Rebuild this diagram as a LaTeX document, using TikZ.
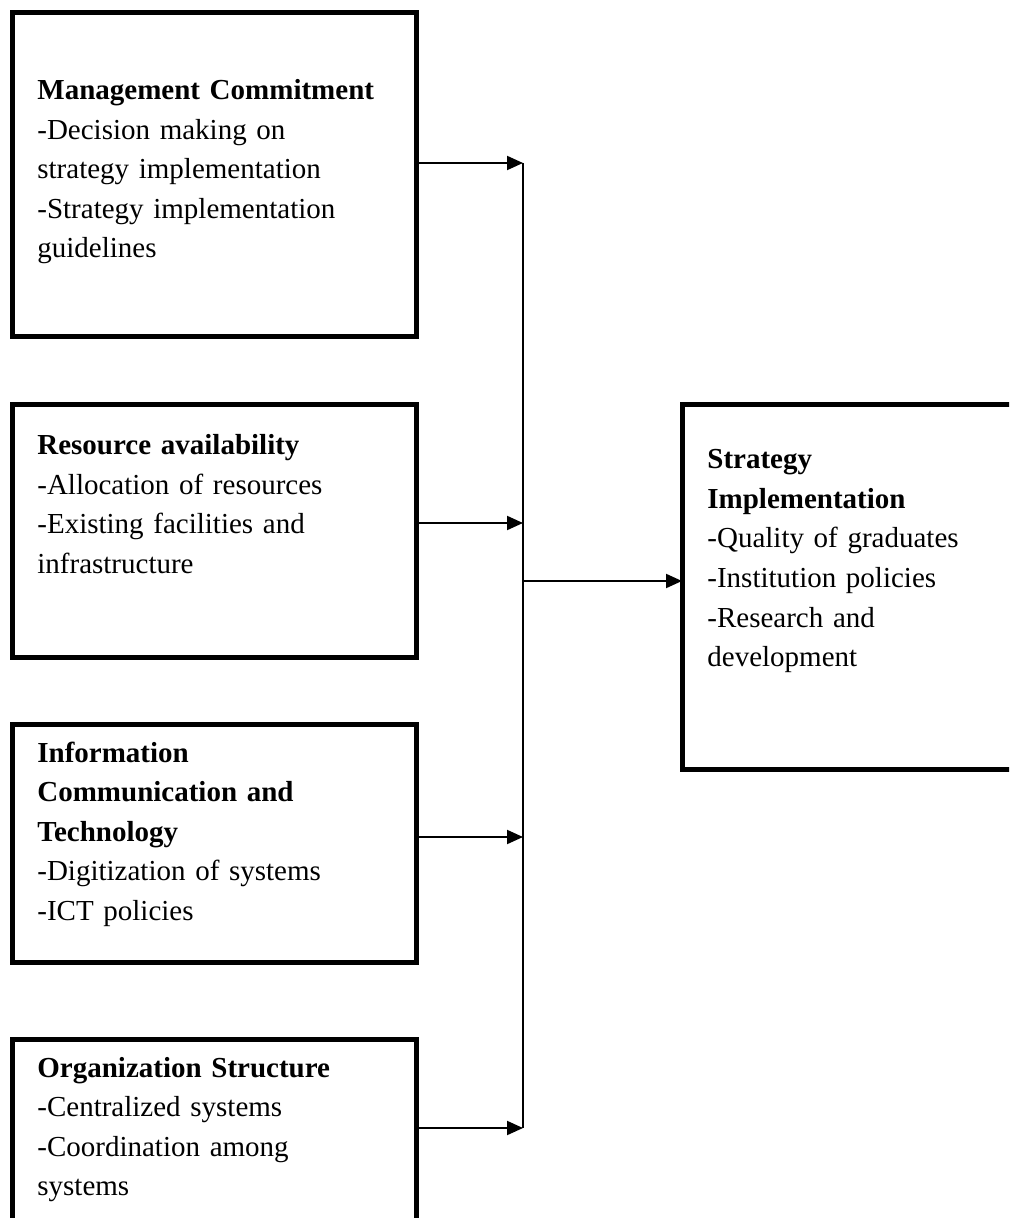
\documentclass[tikz,border=0pt]{standalone}
\usepackage{fontspec}
\setmainfont{Liberation Serif}
\usetikzlibrary{arrows.meta,calc}
\newlength\pixel
\setlength\pixel{0.5pt}

\tikzset{
  frame/.style={draw, line width=2.5pt, inner sep=0pt, outer sep=0pt, anchor=north west},
  boxtext/.style={anchor=base west, inner sep=0pt, align=left, text width=#1,
    font=\fontsize{14.5pt}{19.75pt}\selectfont},
  boxtext/.default=185pt,
  link/.style={line width=1pt, -{Triangle[length=8pt,width=7pt]}},
  bus/.style={line width=0.9pt}
}

\begin{document}
\begin{tikzpicture}[x=\pixel,y=-\pixel]
  \useasboundingbox (0,0) rectangle (1009,1218);
  \clip (0,0) rectangle (1009,1218);

  % frames
  \node[frame, minimum width=403.5\pixel, minimum height=324\pixel] (mc) at (12.5,13) {};
  \node[frame, minimum width=403.5\pixel, minimum height=252\pixel] (ra) at (12.5,405) {};
  \node[frame, minimum width=403.5\pixel, minimum height=238\pixel] (ict) at (12.5,724) {};
  \node[frame, minimum width=403.5\pixel, minimum height=185\pixel] (os) at (12.5,1039) {};
  \node[frame, minimum width=338\pixel, minimum height=364\pixel] (si) at (682,405) {};

  % texts
  \node[boxtext] (mc-text) at ($(mc.north west)+(24.5,87)$)
    {\textbf{Management Commitment}\\-Decision making on\\strategy implementation\\-Strategy implementation\\guidelines};
  \node[boxtext] (ra-text) at ($(ra.north west)+(24.5,50)$)
    {\textbf{Resource availability}\\-Allocation of resources\\-Existing facilities and\\infrastructure};
  \node[boxtext] (ict-text) at ($(ict.north west)+(24.5,38)$)
    {\textbf{Information}\\\textbf{Communication and}\\\textbf{Technology}\\-Digitization of systems\\-ICT policies};
  \node[boxtext] (os-text) at ($(os.north west)+(24.5,38)$)
    {\textbf{Organization Structure}\\-Centralized systems\\-Coordination among\\systems};
  \node[boxtext=150pt] (si-text) at ($(si.north west)+(25,64)$)
    {\textbf{Strategy}\\\textbf{Implementation}\\-Quality of graduates\\-Institution policies\\-Research and\\development};

  % connectors
  \coordinate (top) at (523,163);
  \coordinate (bottom) at (523,1128);
  \draw[bus] (top) -- (bottom);
  \foreach \src/\dy in {mc/6pt, ra/4pt, ict/3pt, os/1.75pt}{
    \path ([yshift=\dy]\src.east) coordinate (\src-out);
    \draw[link] (\src-out) -- (\src-out -| top);
  }
  \path ([yshift=3pt]si.west) coordinate (si-in);
  \draw[link] (si-in -| top) -- (si-in);
\end{tikzpicture}
\end{document}
